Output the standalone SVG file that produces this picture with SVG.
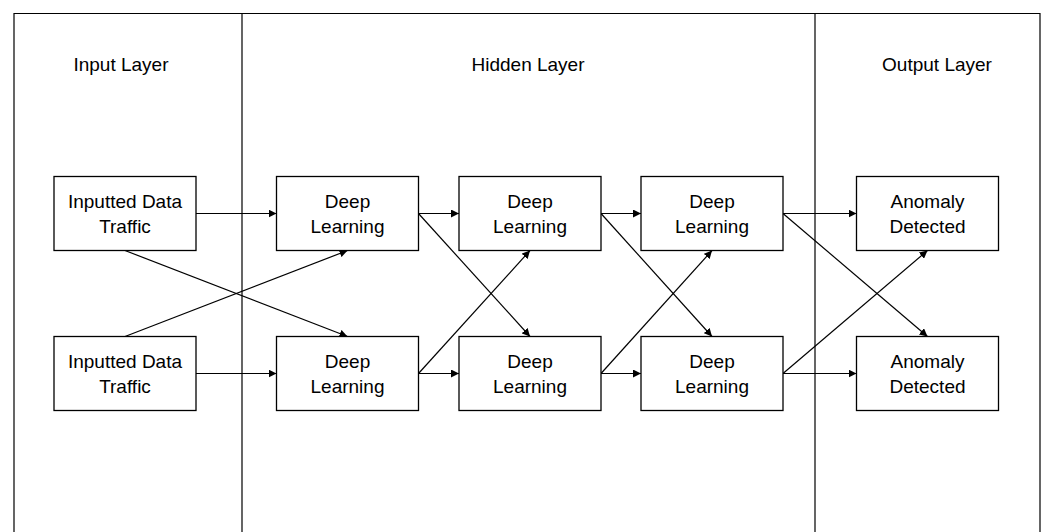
<svg xmlns="http://www.w3.org/2000/svg" width="1046" height="532" viewBox="0 0 1046 532">
<style>
.frame{fill:none;stroke:#000;stroke-width:1.2}
.box{fill:#fff;stroke:#000;stroke-width:1.3}
.t{font-family:"Liberation Sans",Arial,sans-serif;font-size:19px;fill:#000;text-anchor:middle}
.c{fill:none;stroke:#000;stroke-width:1.2;marker-end:url(#ah)}
</style>
<defs>
<marker id="ah" viewBox="0 0 10 10" refX="10" refY="5" markerWidth="8" markerHeight="8" markerUnits="userSpaceOnUse" orient="auto">
<path d="M0,0 L10,5 L0,10 z" fill="#000"/>
</marker>
</defs>
<rect width="1046" height="532" fill="#fff"/>
<g id="frame">
<path class="frame" d="M14,540 V13.5 H1040 V540 M242,13.5 V540 M815,13.5 V540"/>
<text class="t" x="121" y="71">Input Layer</text>
<text class="t" x="528" y="71">Hidden Layer</text>
<text class="t" x="937" y="71">Output Layer</text>
</g>
<g id="connectors">
<line class="c" x1="196" y1="213.5" x2="276.5" y2="213.5"/>
<line class="c" x1="196" y1="373.5" x2="276.5" y2="373.5"/>
<line class="c" x1="125" y1="250.5" x2="347.5" y2="336.5"/>
<line class="c" x1="125" y1="336.5" x2="347.5" y2="250.5"/>
<line class="c" x1="418.5" y1="213.5" x2="459" y2="213.5"/>
<line class="c" x1="418.5" y1="373.5" x2="459" y2="373.5"/>
<line class="c" x1="418.5" y1="213.5" x2="530" y2="336.5"/>
<line class="c" x1="418.5" y1="373.5" x2="530" y2="250.5"/>
<line class="c" x1="601" y1="213.5" x2="641" y2="213.5"/>
<line class="c" x1="601" y1="373.5" x2="641" y2="373.5"/>
<line class="c" x1="601" y1="213.5" x2="712" y2="336.5"/>
<line class="c" x1="601" y1="373.5" x2="712" y2="250.5"/>
<line class="c" x1="783" y1="213.5" x2="856.5" y2="213.5"/>
<line class="c" x1="783" y1="373.5" x2="856.5" y2="373.5"/>
<line class="c" x1="783" y1="213.5" x2="927.5" y2="336.5"/>
<line class="c" x1="783" y1="373.5" x2="927.5" y2="250.5"/>
</g>
<g id="in1"><rect class="box" x="54" y="176.5" width="142" height="74"/><text class="t" x="125" y="208">Inputted Data</text><text class="t" x="125" y="233">Traffic</text></g>
<g id="in2"><rect class="box" x="54" y="336.5" width="142" height="74"/><text class="t" x="125" y="368">Inputted Data</text><text class="t" x="125" y="393">Traffic</text></g>
<g id="dl1a"><rect class="box" x="276.5" y="176.5" width="142" height="74"/><text class="t" x="347.5" y="208">Deep</text><text class="t" x="347.5" y="233">Learning</text></g>
<g id="dl1b"><rect class="box" x="276.5" y="336.5" width="142" height="74"/><text class="t" x="347.5" y="368">Deep</text><text class="t" x="347.5" y="393">Learning</text></g>
<g id="dl2a"><rect class="box" x="459" y="176.5" width="142" height="74"/><text class="t" x="530" y="208">Deep</text><text class="t" x="530" y="233">Learning</text></g>
<g id="dl2b"><rect class="box" x="459" y="336.5" width="142" height="74"/><text class="t" x="530" y="368">Deep</text><text class="t" x="530" y="393">Learning</text></g>
<g id="dl3a"><rect class="box" x="641" y="176.5" width="142" height="74"/><text class="t" x="712" y="208">Deep</text><text class="t" x="712" y="233">Learning</text></g>
<g id="dl3b"><rect class="box" x="641" y="336.5" width="142" height="74"/><text class="t" x="712" y="368">Deep</text><text class="t" x="712" y="393">Learning</text></g>
<g id="out1"><rect class="box" x="856.5" y="176.5" width="142" height="74"/><text class="t" x="927.5" y="208">Anomaly</text><text class="t" x="927.5" y="233">Detected</text></g>
<g id="out2"><rect class="box" x="856.5" y="336.5" width="142" height="74"/><text class="t" x="927.5" y="368">Anomaly</text><text class="t" x="927.5" y="393">Detected</text></g>
</svg>
